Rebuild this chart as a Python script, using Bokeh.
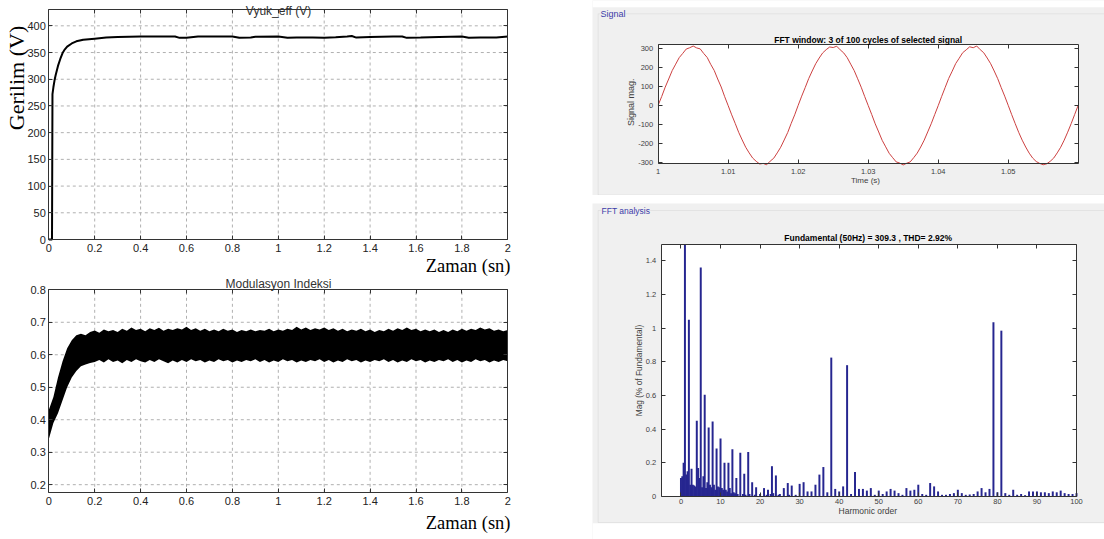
import numpy as np
from bokeh.plotting import figure
from bokeh.models import (Range1d, FixedTicker, CustomJSTickFormatter, Label,
                          BoxAnnotation, LinearAxis, Spacer)
from bokeh.layouts import row, column
from bokeh.embed import file_html
from bokeh.resources import INLINE

# ---------------- data ----------------
# Vyuk_eff (V) versus time (s)
v_time = [0, 0.014, 0.016, 0.02, 0.025, 0.03, 0.04, 0.05, 0.06, 0.07,
          0.08, 0.10, 0.12, 0.15, 0.20, 0.25, 0.30, 0.40, 0.50, 0.55,
          0.57, 0.60, 0.63, 0.65, 0.80, 0.83, 0.88, 0.90, 1.00, 1.04,
          1.08, 1.15, 1.20, 1.25, 1.30, 1.32, 1.34, 1.40, 1.50, 1.54,
          1.56, 1.62, 1.70, 1.80, 1.83, 1.88, 1.95, 2.00]
v_eff = [0, 0, 272, 285, 298, 308, 325, 338, 349, 356,
         361, 367, 371, 374, 376, 378, 379, 380, 380, 380,
         377.5, 377.5, 379, 380, 380, 377.5, 378, 379.5, 380, 377.5,
         378, 378, 377.5, 378.5, 380, 381, 378, 379, 380, 380,
         377.5, 378, 379, 380, 377.5, 378, 378, 380]
v_xr = (0, 2)
v_yr = (0, 430)
v_xticks = [0, 0.2, 0.4, 0.6, 0.8, 1, 1.2, 1.4, 1.6, 1.8, 2]
v_yticks = [0, 50, 100, 150, 200, 250, 300, 350, 400]

# Modulasyon Indeksi: envelope of the oscillating index, one pair every 0.02 s
m_dt = 0.02
m_hi = [0.43, 0.47, 0.53, 0.58, 0.62, 0.645, 0.66, 0.665, 0.66, 0.67,
        0.675, 0.668, 0.678, 0.672, 0.676, 0.67, 0.68, 0.674, 0.684, 0.676,
        0.68, 0.672, 0.682, 0.676, 0.683, 0.674, 0.68, 0.676, 0.682, 0.678,
        0.686, 0.676, 0.682, 0.674, 0.68, 0.672, 0.678, 0.672, 0.68, 0.674,
        0.678, 0.67, 0.676, 0.672, 0.678, 0.672, 0.676, 0.674, 0.68, 0.672,
        0.678, 0.674, 0.68, 0.676, 0.686, 0.678, 0.684, 0.676, 0.682, 0.678,
        0.684, 0.676, 0.682, 0.674, 0.68, 0.672, 0.678, 0.674, 0.68, 0.672,
        0.678, 0.67, 0.676, 0.672, 0.68, 0.674, 0.682, 0.676, 0.684, 0.676,
        0.68, 0.672, 0.678, 0.672, 0.678, 0.67, 0.676, 0.67, 0.678, 0.672,
        0.68, 0.674, 0.68, 0.676, 0.684, 0.678, 0.682, 0.674, 0.678, 0.672,
        0.676]
m_lo = [0.34, 0.39, 0.42, 0.46, 0.50, 0.53, 0.55, 0.565, 0.57, 0.575,
        0.578, 0.584, 0.576, 0.586, 0.578, 0.582, 0.574, 0.584, 0.578, 0.586,
        0.58, 0.576, 0.584, 0.578, 0.586, 0.58, 0.574, 0.582, 0.576, 0.584,
        0.578, 0.586, 0.58, 0.584, 0.576, 0.582, 0.578, 0.586, 0.58, 0.584,
        0.576, 0.582, 0.578, 0.584, 0.58, 0.586, 0.578, 0.584, 0.576, 0.582,
        0.578, 0.586, 0.58, 0.584, 0.576, 0.582, 0.578, 0.584, 0.58, 0.586,
        0.578, 0.584, 0.576, 0.582, 0.578, 0.586, 0.58, 0.584, 0.576, 0.582,
        0.578, 0.584, 0.58, 0.586, 0.578, 0.584, 0.576, 0.582, 0.578, 0.586,
        0.58, 0.584, 0.576, 0.582, 0.578, 0.584, 0.58, 0.586, 0.578, 0.584,
        0.576, 0.582, 0.578, 0.586, 0.58, 0.584, 0.576, 0.582, 0.578, 0.584,
        0.58]
m_xr = (0, 2)
m_yr = (0.175, 0.8)
m_xticks = [0, 0.2, 0.4, 0.6, 0.8, 1, 1.2, 1.4, 1.6, 1.8, 2]
m_yticks = [0.2, 0.3, 0.4, 0.5, 0.6, 0.7, 0.8]

# FFT window signal (V), one sample every 0.5 ms from t = 1 s
sig_t0 = 1.0
sig_dt = 0.0005
sig = [2, 47, 96, 139, 183, 217, 251, 273, 296, 303, 312, 302, 297, 273, 252, 216, 184, 139, 97, 46,
       -1, -49, -94, -141, -181, -219, -249, -276, -293, -307, -304, -311, -292, -277, -249, -219, -181, -142, -94, -49,
       1, 49, 94, 141, 181, 219, 249, 276, 293, 307, 304, 311, 292, 276, 251, 217, 183, 140, 96, 47,
       0, -47, -96, -139, -183, -217, -251, -274, -296, -302, -312, -303, -296, -274, -250, -218, -182, -139, -96, -48,
       -1, 48, 95, 142, 180, 220, 248, 277, 292, 308, 303, 312, 293, 277, 249, 219, 181, 141, 94, 49,
       1, -48, -95, -141, -182, -218, -250, -276, -294, -304, -311, -306, -293, -276, -249, -219, -182, -140, -95, -47,
       1]
sig_xr = (1.0, 1.06)
sig_yr = (-306, 320)
sig_xticks = [1, 1.01, 1.02, 1.03, 1.04, 1.05]
sig_yticks = [-300, -200, -100, 0, 100, 200, 300]

# FFT spectrum: harmonic order and magnitude (% of fundamental)
h_order = [0, 0.33, 0.67, 1, 1.33, 1.67, 2, 2.33, 2.67, 3,
           3.33, 3.67, 4, 4.33, 4.67, 5, 5.33, 5.67, 6, 6.33,
           6.67, 7, 7.33, 7.67, 8, 8.33, 8.67, 9, 9.33, 9.67,
           10, 10.33, 10.67, 11, 11.33, 11.67, 12, 12.33, 12.67, 13,
           13.33, 13.67, 14, 14.33, 15, 15.67, 16, 16.33, 17, 17.33,
           18, 18.67, 19, 20, 21, 21.67, 22, 22.67, 23, 23.33,
           24, 24.67, 25, 26, 27, 27.33, 28, 29, 30, 31,
           32, 33, 34, 35, 36, 37, 38, 39, 40, 41,
           42, 43, 44, 45, 46, 47, 48, 49, 50, 51,
           52, 53, 54, 55, 56, 57, 58, 59, 60, 61,
           62, 63, 64, 65, 66, 67, 68, 69, 70, 71,
           72, 73, 74, 75, 76, 77, 78, 79, 80, 81,
           82, 83, 84, 85, 86, 87, 88, 89, 90, 91,
           92, 93, 94, 95, 96, 97, 98, 99, 100]
h_mag = [0.11, 0.12, 0.2, 100, 0.13, 0.15, 1.05, 0.07, 0.165, 0.07,
         0.065, 0.06, 0.45, 0.17, 0.11, 1.36, 0.055, 0.12, 0.605, 0.05,
         0.085, 0.41, 0.07, 0.055, 0.445, 0.07, 0.04, 0.285, 0.06, 0.055,
         0.345, 0.05, 0.04, 0.2, 0.04, 0.03, 0.2, 0.05, 0.02, 0.28,
         0.025, 0.02, 0.11, 0.015, 0.26, 0.015, 0.135, 0.01, 0.265, 0.015,
         0.085, 0.01, 0.055, 0.015, 0.05, 0.01, 0.04, 0.015, 0.18, 0.02,
         0.125, 0.01, 0.015, 0.05, 0.08, 0.01, 0.065, 0.01, 0.075, 0.085,
         0.03, 0.03, 0.07, 0.13, 0.175, 0.025, 0.825, 0.045, 0.03, 0.06,
         0.78, 0.015, 0.145, 0.045, 0.045, 0.035, 0.05, 0.01, 0.035, 0.015,
         0.03, 0.045, 0.035, 0.02, 0.01, 0.05, 0.035, 0.04, 0.07, 0.015,
         0.01, 0.08, 0.06, 0.03, 0.01, 0.01, 0.015, 0.02, 0.04, 0.02,
         0.01, 0.012, 0.015, 0.03, 0.05, 0.025, 0.045, 1.035, 0.025, 0.985,
         0.02, 0.01, 0.04, 0.01, 0.015, 0.008, 0.03, 0.03, 0.03, 0.025,
         0.025, 0.02, 0.03, 0.025, 0.035, 0.02, 0.015, 0.015, 0.02]
h_xr = (-5, 100)
h_yr = (0, 1.495)
h_xticks = [0, 10, 20, 30, 40, 50, 60, 70, 80, 90, 100]
h_yticks = [0, 0.2, 0.4, 0.6, 0.8, 1, 1.2, 1.4]

m_time = [m_dt * i for i in range(len(m_hi))]
sig_time = [sig_t0 + sig_dt * i for i in range(len(sig))]
h_top = [min(v, h_yr[1]) for v in h_mag]   # bars are clipped at the axis top

# ---------------- helpers ----------------
SANS = "Liberation Sans"
SERIF = "Liberation Serif"
PANEL = "#f0f0f0"
AX = "#333333"
BOXLINE = "#c8c8c8"


def make_panel(W, H, ox, oy, box, xr, yr, bg):
    """Figure whose frame covers the whole canvas; `box` is the plot box in page pixels."""
    L, T, R, B = box[0] - ox, box[1] - oy, box[2] - ox, box[3] - oy
    sx = (R - L) / (xr[1] - xr[0])
    sy = (B - T) / (yr[1] - yr[0])
    x0 = xr[0] - L / sx
    x1 = xr[0] + (W - L) / sx
    y1 = yr[1] + T / sy
    y0 = yr[1] - (H - T) / sy
    p = figure(width=W, height=H, x_range=Range1d(x0, x1), y_range=Range1d(y0, y1),
               x_axis_type=None, y_axis_type=None, title=None, min_border=0,
               output_backend="svg", toolbar_location=None)
    p.outline_line_color = None
    p.background_fill_color = bg
    p.border_fill_color = bg

    def at(px, py):
        return x0 + (px - ox) / sx, y1 - (py - oy) / sy
    return p, at


def fmt():
    return CustomJSTickFormatter(code="return String(Math.round(tick*10000)/10000);")


def frame_axes(p, xr, yr, xt, yt, fsize, fcolor, xstand, ystand):
    common = dict(major_tick_in=4, major_tick_out=0, minor_tick_line_color=None,
                  axis_line_color=AX, major_tick_line_color=AX,
                  major_label_text_font=SANS, major_label_text_font_size=fsize)
    p.add_layout(LinearAxis(fixed_location=yr[0], bounds=tuple(xr), ticker=FixedTicker(ticks=xt),
                            formatter=fmt(), major_label_standoff=xstand,
                            major_label_text_color=fcolor, **common), "below")
    p.add_layout(LinearAxis(fixed_location=xr[0], bounds=tuple(yr), ticker=FixedTicker(ticks=yt),
                            formatter=fmt(), major_label_standoff=ystand,
                            major_label_text_color=fcolor, **common), "left")
    p.add_layout(LinearAxis(fixed_location=yr[1], bounds=tuple(xr), ticker=FixedTicker(ticks=xt),
                            major_label_text_color=None, **common), "above")
    p.add_layout(LinearAxis(fixed_location=xr[1], bounds=tuple(yr), ticker=FixedTicker(ticks=yt),
                            major_label_text_color=None, **common), "right")


def dashed_grid(p, xr, yr, xt, yt):
    gx = [t for t in xt if xr[0] < t < xr[1]]
    gy = [t for t in yt if yr[0] < t < yr[1]]
    p.multi_line(xs=[[t, t] for t in gx], ys=[[yr[0], yr[1]] for _ in gx],
                 line_color="#b0b0b0", line_dash="3 3", line_width=1)
    p.multi_line(xs=[[xr[0], xr[1]] for _ in gy], ys=[[t, t] for t in gy],
                 line_color="#b0b0b0", line_dash="3 3", line_width=1)


def lab(p, at, px, py, text, size, font=SANS, color="#222222", style="normal",
        align="center", baseline="middle", angle=0.0, bg=None):
    x, y = at(px, py)
    p.add_layout(Label(x=x, y=y, text=text, text_font=font, text_font_size=size,
                       text_color=color, text_font_style=style, text_align=align,
                       text_baseline=baseline, angle=angle, background_fill_color=bg))


def rect_box(p, at, l, t, r, b, fill=None, line=None):
    x_l, y_t = at(l, t)
    x_r, y_b = at(r, b)
    p.add_layout(BoxAnnotation(left=x_l, right=x_r, top=y_t, bottom=y_b,
                               fill_color=fill, fill_alpha=1 if fill else 0,
                               line_color=line, line_width=1, level="underlay"))


# ---------------- top-left: Vyuk_eff ----------------
p1, at1 = make_panel(592, 276, 0, 0, (48.3, 9.3, 507.3, 239), v_xr, v_yr, "white")
dashed_grid(p1, v_xr, v_yr, v_xticks, v_yticks)
p1.line(v_time, v_eff, line_width=2, line_color="black")
frame_axes(p1, v_xr, v_yr, v_xticks, v_yticks, "11px", "#222222", 4, 3)
lab(p1, at1, 278, 10, "Vyuk_eff (V)", "12px", color="#333333")
lab(p1, at1, 15.8, 77.5, "Gerilim (V)", "22px", font=SERIF, color="black", angle=np.pi / 2)
lab(p1, at1, 510, 265.6, "Zaman (sn)", "18.5px", font=SERIF, color="black", align="right")

# ---------------- bottom-left: Modulasyon Indeksi ----------------
p2, at2 = make_panel(592, 263, 0, 276, (48.3, 289.3, 507.3, 492.3), m_xr, m_yr, "white")
dashed_grid(p2, m_xr, m_yr, m_xticks, m_yticks)
p2.varea(x=m_time, y1=m_lo, y2=m_hi, fill_color="black")
frame_axes(p2, m_xr, m_yr, m_xticks, m_yticks, "11px", "#222222", 4, 3)
lab(p2, at2, 278, 283, "Modulasyon Indeksi", "12px", color="#333333")
lab(p2, at2, 510, 522, "Zaman (sn)", "18.5px", font=SERIF, color="black", align="right")

# ---------------- top-right: Signal ----------------
p3, at3 = make_panel(512, 195, 592, 0, (657.7, 44, 1077.7, 163.3), sig_xr, sig_yr, PANEL)
rect_box(p3, at3, 592, 0, 1104, 6.7, fill="white")
rect_box(p3, at3, 597.7, 13.3, 1110, 194.5, line=BOXLINE)
rect_box(p3, at3, 657.7, 44, 1077.7, 163.3, fill="white")
p3.line(sig_time, sig, line_color="#cc4040", line_width=1)
frame_axes(p3, sig_xr, sig_yr, sig_xticks, sig_yticks, "7.5px", "#404040", 5, 5)
lab(p3, at3, 867.7, 39, "FFT window: 3 of 100 cycles of selected signal", "8.5px",
    color="black", style="bold")
lab(p3, at3, 865, 180, "Time (s)", "8px", color="#404040")
lab(p3, at3, 630.7, 101.7, "Signal mag.", "9px", color="#404040", angle=np.pi / 2)
lab(p3, at3, 600, 13.3, "Signal", "9px", color="#3c3ca8", align="left", bg=PANEL)

# ---------------- bottom-right: FFT analysis ----------------
p4, at4 = make_panel(512, 336, 592, 203, (660.7, 244.3, 1076, 496), h_xr, h_yr, PANEL)
rect_box(p4, at4, 592, 522.7, 1104, 539, fill="white")
rect_box(p4, at4, 597.7, 210, 1110, 522, line=BOXLINE)
rect_box(p4, at4, 660.7, 244.3, 1076, 496, fill="white")
p4.vbar(x=h_order, top=h_top, width=0.5, bottom=0, fill_color="#262690", line_color=None)
frame_axes(p4, h_xr, h_yr, h_xticks, h_yticks, "7.5px", "#404040", 2, 5)
lab(p4, at4, 867.7, 237.7, "Fundamental (50Hz) = 309.3 , THD= 2.92%", "8.5px",
    color="black", style="bold")
lab(p4, at4, 867.3, 510.7, "Harmonic order", "8.5px", color="#404040")
lab(p4, at4, 638, 370, "Mag (% of Fundamental)", "8.3px", color="#404040", angle=np.pi / 2)
lab(p4, at4, 601, 210, "FFT analysis", "8.5px", color="#3c3ca8", align="left", bg=PANEL)

layout = row(column(p1, p2, spacing=0),
             column(p3, Spacer(width=512, height=8), p4, spacing=0),
             spacing=0)

open("out.html", "w").write(file_html(layout, INLINE, "chart"))
